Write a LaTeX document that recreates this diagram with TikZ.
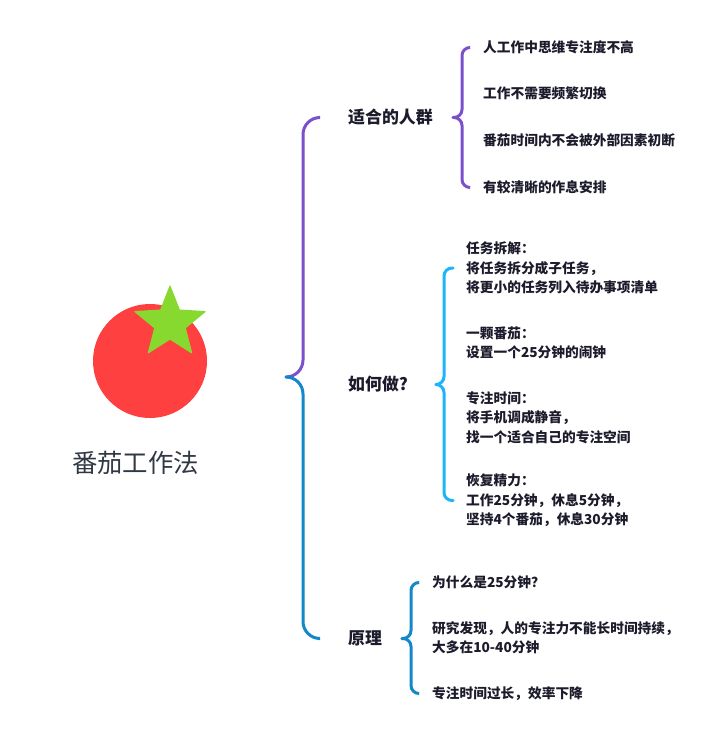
\documentclass[tikz,border=0pt]{standalone}
\usepackage{fontspec}
\setmainfont{Noto Sans CJK SC}
\usepackage{xcolor}
\usetikzlibrary{shapes.geometric}
\definecolor{tomatored}{HTML}{FF4040}
\definecolor{stemgreen}{HTML}{88D92F}
\definecolor{inkdark}{HTML}{1B1B2B}
\definecolor{titleink}{HTML}{303844}
\definecolor{bracepurple}{HTML}{7A50CC}
\definecolor{braceblue}{HTML}{1287C9}
\definecolor{bracecyan}{HTML}{1CB4FA}

\begin{document}
\begin{tikzpicture}[
    x=1pt, y=-1pt,
    title/.style={anchor=center, inner sep=0pt, text=titleink, font=\fontsize{25.4}{30}\selectfont},
    branch/.style={anchor=west, inner xsep=29pt, inner ysep=0pt, text=inkdark, font=\fontsize{16.9}{20}\selectfont\bfseries},
    leaf/.style={anchor=west, inner xsep=14pt, inner ysep=0pt, align=left, text=inkdark, font=\fontsize{13.7}{19.5}\selectfont\bfseries},
    brace/.style={line width=3pt, line cap=round, rounded corners=8pt},
    bigbrace/.style={line width=3pt, line cap=round, rounded corners=17pt},
]
    \useasboundingbox (0,0) rectangle (720,741);

    % tomato
    \node[circle, fill=tomatored, inner sep=0pt, minimum size=114pt] (fruit) at (150,361) {};
    \node[star, star points=5, star point ratio=2.3, fill=stemgreen, draw=stemgreen, line join=round, line width=1pt, inner sep=0pt, minimum size=74pt] (stem) at (170,323) {};
    \node[title] (root) at (135.5,462.5) {番茄工作法};

    \node[branch] (fit) at (319,117.5) {适合的人群};
    \node[branch] (how) at (319,384.5) {如何做?};
    \node[branch] (why) at (319,638.5) {原理};

    \node[leaf] (fita) at (469,47.5)  {人工作中思维专注度不高};
    \node[leaf] (fitb) at (469,93.5)  {工作不需要频繁切换};
    \node[leaf] (fitc) at (469,140.5) {番茄时间内不会被外部因素初断};
    \node[leaf] (fitd) at (469,187.5) {有较清晰的作息安排};

    \node[leaf, inner xsep=13pt] (howa) at (453,268) {任务拆解：\\将任务拆分成子任务，\\将更小的任务列入待办事项清单};
    \node[leaf, inner xsep=13pt] (howb) at (453,343) {一颗番茄：\\设置一个25分钟的闹钟};
    \node[leaf, inner xsep=13pt] (howc) at (453,417.5) {专注时间：\\将手机调成静音，\\找一个适合自己的专注空间};
    \node[leaf, inner xsep=13pt] (howd) at (453,500.5) {恢复精力：\\工作25分钟，休息5分钟，\\坚持4个番茄，休息30分钟};

    \node[leaf] (whya) at (418,582.5) {为什么是25分钟？};
    \node[leaf] (whyb) at (418,637.5) {研究发现，人的专注力不能长时间持续，\\大多在10-40分钟};
    \node[leaf] (whyc) at (418,693.5) {专注时间过长，效率下降};

    \coordinate (bigtip) at (286,377);
    \coordinate (fittip) at (453,117.5);
    \coordinate (howtip) at (436,384.5);
    \coordinate (whytip) at (402,638.5);

    \coordinate (bigs) at (303,377);
    \coordinate (fits) at (462,117.5);
    \coordinate (hows) at (444,384.5);
    \coordinate (whys) at (411,638.5);

    \draw[bigbrace, bracepurple] (bigtip) -- (bigs) |- (fit.west);
    \draw[bigbrace, braceblue]   (bigtip) -- (bigs) |- (why.west);

    \draw[brace, bracepurple] (fittip) -- (fits) |- (fita.west);
    \draw[brace, bracepurple] (fittip) -- (fits) |- (fitd.west);
    \draw[brace, bracecyan]   (howtip) -- (hows) |- (howa.west);
    \draw[brace, bracecyan]   (howtip) -- (hows) |- (howd.west);
    \draw[brace, braceblue]   (whytip) -- (whys) |- (whya.west);
    \draw[brace, braceblue]   (whytip) -- (whys) |- (whyc.west);
\end{tikzpicture}
\end{document}
